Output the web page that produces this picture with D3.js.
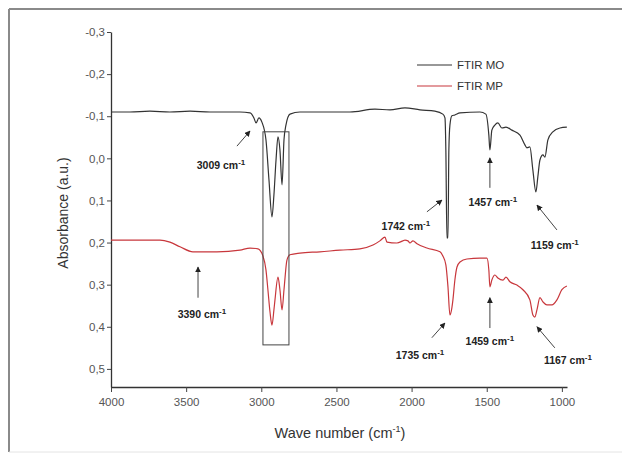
<!DOCTYPE html>
<html>
<head>
<meta charset="utf-8">
<script src="https://cdn.jsdelivr.net/npm/d3@7"></script>
<style>
  body { margin: 0; background: #fff; }
  text { font-family: "Liberation Sans", Arial, sans-serif; }
</style>
</head>
<body>
<div id="chart"></div>
<script>
// FTIR MO spectrum (wave number cm-1, absorbance)
var moWave = [4000, 3874, 3741, 3608, 3474, 3341, 3142, 3075, 3049, 3035, 3016, 2996, 2969, 2949, 2929, 2916, 2902, 2889, 2876, 2862, 2849, 2836, 2809, 2743, 2410, 2244, 2144, 2044, 1944, 1845, 1792, 1778, 1772, 1765, 1758, 1752, 1745, 1732, 1712, 1678, 1545, 1506, 1486, 1479, 1466, 1446, 1426, 1399, 1372, 1333, 1279, 1246, 1233, 1213, 1193, 1173, 1160, 1146, 1126, 1113, 1093, 1060, 1013, 967];
var moAbs  = [-0.110, -0.110, -0.112, -0.110, -0.112, -0.110, -0.110, -0.108, -0.096, -0.084, -0.096, -0.086, -0.044, 0.051, 0.139, 0.087, 0.004, -0.051, -0.020, 0.063, -0.044, -0.079, -0.105, -0.110, -0.110, -0.117, -0.115, -0.120, -0.115, -0.112, -0.105, -0.096, -0.020, 0.189, 0.189, -0.020, -0.079, -0.101, -0.103, -0.108, -0.110, -0.105, -0.055, -0.020, -0.067, -0.079, -0.084, -0.072, -0.074, -0.067, -0.055, -0.032, -0.025, -0.027, 0.028, 0.080, 0.044, 0.004, -0.008, -0.003, -0.044, -0.063, -0.072, -0.074];

// FTIR MP spectrum
var mpWave = [4000, 3807, 3674, 3608, 3541, 3455, 3295, 3142, 3075, 3022, 2989, 2969, 2956, 2942, 2929, 2916, 2909, 2889, 2876, 2862, 2849, 2829, 2809, 2743, 2610, 2477, 2344, 2257, 2211, 2177, 2164, 2098, 2058, 2044, 2024, 2011, 1991, 1964, 1898, 1811, 1792, 1772, 1758, 1745, 1732, 1725, 1712, 1698, 1678, 1632, 1545, 1499, 1486, 1479, 1466, 1446, 1426, 1392, 1372, 1346, 1299, 1259, 1213, 1193, 1180, 1166, 1146, 1126, 1100, 1066, 1033, 1000, 967];
var mpAbs  = [0.194, 0.194, 0.194, 0.199, 0.210, 0.222, 0.222, 0.218, 0.213, 0.215, 0.232, 0.265, 0.312, 0.365, 0.396, 0.360, 0.336, 0.282, 0.312, 0.360, 0.312, 0.241, 0.229, 0.225, 0.222, 0.218, 0.215, 0.206, 0.196, 0.187, 0.199, 0.201, 0.196, 0.194, 0.196, 0.201, 0.196, 0.203, 0.213, 0.222, 0.232, 0.253, 0.305, 0.372, 0.355, 0.336, 0.289, 0.258, 0.246, 0.239, 0.237, 0.237, 0.265, 0.305, 0.289, 0.277, 0.284, 0.289, 0.282, 0.293, 0.301, 0.312, 0.336, 0.372, 0.377, 0.360, 0.331, 0.341, 0.348, 0.348, 0.336, 0.312, 0.303];

var xTicks = [4000, 3500, 3000, 2500, 2000, 1500, 1000];
var yTicks = [-0.3, -0.2, -0.1, 0.0, 0.1, 0.2, 0.3, 0.4, 0.5];

var seriesNames = ["FTIR MO", "FTIR MP"];
var seriesColors = ["#333333", "#c8373c"];

// peak labels: text, label (wave, abs), arrow from (wave, abs) to (wave, abs)
var peakText  = ["3009", "1742", "1457", "1159", "3390", "1735", "1459", "1167"];
var peakLabel = [[3268, 0.016], [2038, 0.161], [1459, 0.104], [1047, 0.206], [3395, 0.369], [1944, 0.467], [1479, 0.434], [960, 0.479]];
var arrowFrom = [[3162, -0.029], [1898, 0.127], [1479, 0.070], [1033, 0.170], [3421, 0.331], [1865, 0.426], [1479, 0.403], [1047, 0.450]];
var arrowTo   = [[3075, -0.065], [1798, 0.099], [1479, -0.001], [1166, 0.111], [3421, 0.258], [1778, 0.391], [1479, 0.331], [1166, 0.400]];

// highlighted C-H stretching region
var boxWave = [2989, 2816];
var boxAbs = [-0.063, 0.443];

var W = 622, H = 454;
var margin = {top: 32, right: 55, bottom: 67, left: 111};

var svg = d3.select("#chart").append("svg")
	.attr("width", W)
	.attr("height", H);

// outer frame
svg.append("line").attr("x1", 9).attr("y1", 9).attr("x2", W).attr("y2", 9)
	.attr("stroke", "#8a8a8a").attr("stroke-width", 2);
svg.append("line").attr("x1", 9).attr("y1", 9).attr("x2", 9).attr("y2", 452)
	.attr("stroke", "#8a8a8a").attr("stroke-width", 2);
svg.append("line").attr("x1", 9).attr("y1", 452).attr("x2", W).attr("y2", 452)
	.attr("stroke", "#e4e4e4").attr("stroke-width", 1);

var xScale = d3.scaleLinear()
	.domain([4000, 966])
	.range([margin.left, W - margin.right]);
var yScale = d3.scaleLinear()
	.domain([-0.3, 0.543])
	.range([margin.top, H - margin.bottom]);

var fmt = function(d) { return d3.format(".1f")(d).replace(".", ",").replace("−", "-"); };

var xAxis = svg.append("g")
	.attr("transform", "translate(0," + (H - margin.bottom) + ")")
	.call(d3.axisBottom(xScale).tickValues(xTicks).tickFormat(d3.format("d")).tickSize(5).tickPadding(6).tickSizeOuter(0));
var yAxis = svg.append("g")
	.attr("transform", "translate(" + margin.left + ",0)")
	.call(d3.axisLeft(yScale).tickValues(yTicks).tickFormat(fmt).tickSize(4).tickPadding(2).tickSizeOuter(0));

[xAxis, yAxis].forEach(function(g) {
	g.select(".domain").attr("stroke", "#333").attr("stroke-width", 1.3);
	g.selectAll(".tick line").attr("stroke", "#444");
	g.selectAll(".tick text").attr("fill", "#555").attr("font-size", 11.5)
		.attr("font-family", "'Liberation Sans', Arial, sans-serif");
});

// axis titles
svg.append("text")
	.attr("transform", "translate(68,213) rotate(-90)")
	.attr("text-anchor", "middle")
	.attr("font-size", 14)
	.attr("fill", "#333")
	.text("Absorbance (a.u.)");

var xt = svg.append("text")
	.attr("x", 340).attr("y", 438)
	.attr("text-anchor", "middle")
	.attr("font-size", 14.5)
	.attr("fill", "#333");
xt.append("tspan").text("Wave number (cm");
xt.append("tspan").attr("font-size", 9).attr("dy", -6).text("-1");
xt.append("tspan").attr("dy", 6).text(")");

// spectra
var line = d3.line()
	.x(function(d) { return xScale(d[0]); })
	.y(function(d) { return yScale(d[1]); })
	.curve(d3.curveMonotoneX);

var moData = moWave.map(function(w, i) { return [w, moAbs[i]]; });
var mpData = mpWave.map(function(w, i) { return [w, mpAbs[i]]; });

svg.append("path").datum(mpData)
	.attr("d", line).attr("fill", "none")
	.attr("stroke", seriesColors[1]).attr("stroke-width", 1.2);
svg.append("path").datum(moData)
	.attr("d", line).attr("fill", "none")
	.attr("stroke", seriesColors[0]).attr("stroke-width", 1.2);

// box
svg.append("rect")
	.attr("x", xScale(boxWave[0]))
	.attr("y", yScale(boxAbs[0]))
	.attr("width", xScale(boxWave[1]) - xScale(boxWave[0]))
	.attr("height", yScale(boxAbs[1]) - yScale(boxAbs[0]))
	.attr("fill", "none").attr("stroke", "#444").attr("stroke-width", 1);

// arrows
svg.append("defs").append("marker")
	.attr("id", "arrow")
	.attr("viewBox", "0 0 10 10")
	.attr("refX", 9).attr("refY", 5)
	.attr("markerWidth", 6).attr("markerHeight", 6)
	.attr("markerUnits", "userSpaceOnUse")
	.attr("orient", "auto")
	.append("path").attr("d", "M0,0 L10,5 L0,10 z").attr("fill", "#222");

peakText.forEach(function(t, i) {
	svg.append("line")
		.attr("x1", xScale(arrowFrom[i][0])).attr("y1", yScale(arrowFrom[i][1]))
		.attr("x2", xScale(arrowTo[i][0])).attr("y2", yScale(arrowTo[i][1]))
		.attr("stroke", "#444").attr("stroke-width", 1)
		.attr("marker-end", "url(#arrow)");
	var lbl = svg.append("text")
		.attr("x", xScale(peakLabel[i][0]))
		.attr("y", yScale(peakLabel[i][1]) + 4)
		.attr("text-anchor", "middle")
		.attr("font-size", 10.5)
		.attr("font-weight", "bold")
		.attr("fill", "#222");
	lbl.append("tspan").text(t + " cm");
	lbl.append("tspan").attr("font-size", 8).attr("dy", -4).text("-1");
});

// legend
seriesNames.forEach(function(n, i) {
	var y = 65 + i * 21;
	svg.append("line").attr("x1", 417).attr("x2", 452).attr("y1", y).attr("y2", y)
		.attr("stroke", seriesColors[i]).attr("stroke-width", 1.2);
	svg.append("text").attr("x", 457).attr("y", y + 4)
		.attr("font-size", 11.5).attr("fill", "#333").text(n);
});
</script>
</body>
</html>
